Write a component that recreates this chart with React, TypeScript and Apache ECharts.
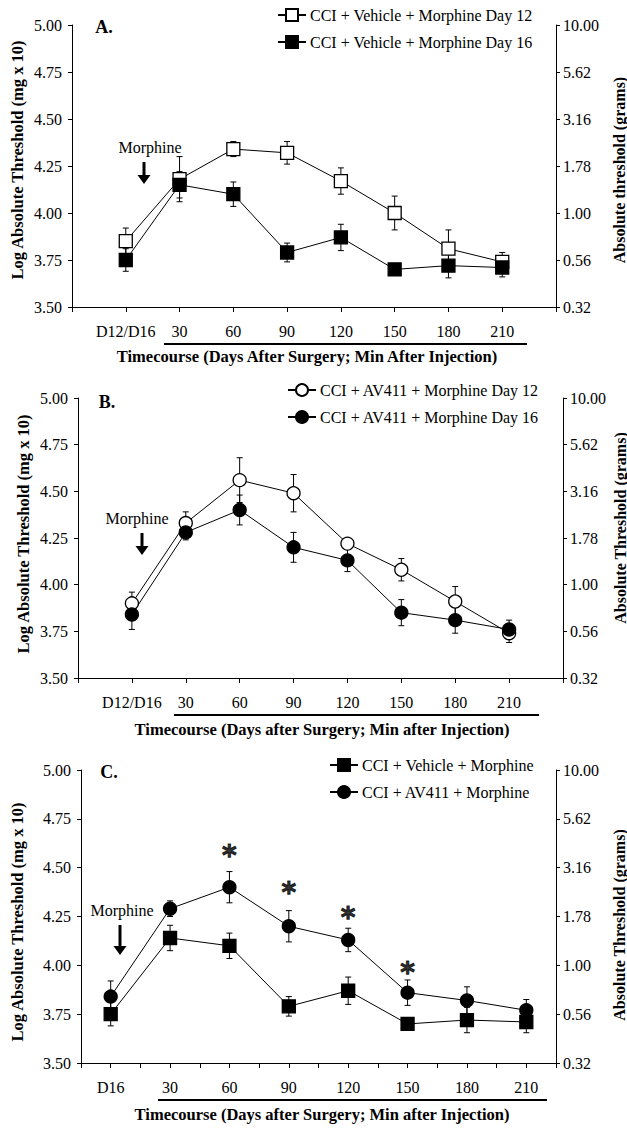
import React, { useEffect, useRef } from "react";
import * as echarts from "echarts";

// ---------- data ----------
const categoriesAB = ["D12/D16", "30", "60", "90", "120", "150", "180", "210"];
const categoriesC = ["D16", "30", "60", "90", "120", "150", "180", "210"];
const xPositions = [1, 2, 3, 4, 5, 6, 7, 8];
const rightTickLabels = ["0.32", "0.56", "1.00", "1.78", "3.16", "5.62", "10.00"];

const aDay12 = [3.85, 4.18, 4.34, 4.32, 4.17, 4.0, 3.81, 3.74];
const aDay12Err = [0.07, 0.12, 0.04, 0.06, 0.07, 0.09, 0.1, 0.05];
const aDay16 = [3.75, 4.15, 4.1, 3.79, 3.87, 3.7, 3.72, 3.71];
const aDay16Err = [0.06, 0.07, 0.065, 0.05, 0.07, 0.03, 0.065, 0.05];

const bDay12 = [3.9, 4.33, 4.56, 4.49, 4.22, 4.08, 3.91, 3.74];
const bDay12Err = [0.06, 0.06, 0.12, 0.1, 0.02, 0.06, 0.08, 0.05];
const bDay16 = [3.84, 4.28, 4.4, 4.2, 4.13, 3.85, 3.81, 3.76];
const bDay16Err = [0.08, 0.04, 0.08, 0.08, 0.06, 0.07, 0.07, 0.05];

const cVehicle = [3.75, 4.14, 4.1, 3.79, 3.87, 3.7, 3.72, 3.71];
const cVehicleErr = [0.06, 0.065, 0.065, 0.05, 0.07, 0.03, 0.065, 0.055];
const cAV411 = [3.84, 4.29, 4.4, 4.2, 4.13, 3.86, 3.82, 3.77];
const cAV411Err = [0.08, 0.04, 0.08, 0.08, 0.06, 0.065, 0.07, 0.055];
const cStars = [null, null, 4.6, 4.41, 4.28, 4.0, null, null];

const namesA = ["CCI + Vehicle + Morphine Day 12", "CCI + Vehicle + Morphine Day 16"];
const namesB = ["CCI + AV411 + Morphine Day 12", "CCI + AV411 + Morphine Day 16"];
const namesC = ["CCI + Vehicle + Morphine", "CCI + AV411 + Morphine"];

const FONT = "'Liberation Serif', 'Times New Roman', serif";

// ---------- helpers ----------
const pts = (vals: number[]) => vals.map((v, i) => [xPositions[i], v]);
const errPts = (vals: number[], errs: number[]) => vals.map((v, i) => [xPositions[i], v, errs[i]]);

const errorRender = (params: any, api: any) => {
  const x = api.value(0);
  const y = api.value(1);
  const e = api.value(2);
  const top = api.coord([x, y + e]);
  const bot = api.coord([x, y - e]);
  const cap = 3;
  const style = { stroke: "#000", lineWidth: 1 };
  return {
    type: "group",
    children: [
      { type: "line", shape: { x1: top[0], y1: top[1], x2: bot[0], y2: bot[1] }, style },
      { type: "line", shape: { x1: top[0] - cap, y1: top[1], x2: top[0] + cap, y2: top[1] }, style },
      { type: "line", shape: { x1: bot[0] - cap, y1: bot[1], x2: bot[0] + cap, y2: bot[1] }, style },
    ],
  };
};

const black = { color: "#000", width: 1 };
const labelStyle = { color: "#000", fontSize: 16, fontFamily: FONT };

function xAxisAB(gridIndex: number) {
  return {
    gridIndex,
    type: "value",
    min: 0,
    max: 9,
    interval: 1,
    axisLine: { show: true, lineStyle: black },
    axisTick: { show: true, length: 5, inside: false, lineStyle: black },
    splitLine: { show: false },
    axisLabel: {
      ...labelStyle,
      margin: 16,
      formatter: (v: number) => categoriesAB[v - 1] ?? "",
    },
  };
}

function xAxisC(gridIndex: number) {
  return {
    gridIndex,
    type: "value",
    min: 0.5,
    max: 8.5,
    interval: 0.5,
    axisLine: { show: true, lineStyle: black },
    axisTick: { show: true, length: 5, inside: false, lineStyle: black },
    splitLine: { show: false },
    axisLabel: {
      ...labelStyle,
      margin: 16,
      formatter: (v: number) => (Number.isInteger(v) ? categoriesC[v - 1] : ""),
    },
  };
}

function yAxes(gridIndex: number) {
  return [
    {
      gridIndex,
      type: "value",
      position: "left",
      min: 3.5,
      max: 5,
      interval: 0.25,
      axisLine: { show: true, lineStyle: black },
      axisTick: { show: true, length: 4, lineStyle: black },
      splitLine: { show: false },
      axisLabel: { ...labelStyle, margin: 10, formatter: (v: number) => v.toFixed(2) },
    },
    {
      gridIndex,
      type: "value",
      position: "right",
      min: 3.5,
      max: 5,
      interval: 0.25,
      axisLine: { show: true, lineStyle: black },
      axisTick: { show: true, length: 4, lineStyle: black },
      splitLine: { show: false },
      axisLabel: {
        ...labelStyle,
        margin: 7,
        formatter: (v: number) => rightTickLabels[Math.round((v - 3.5) / 0.25)] ?? "",
      },
    },
  ];
}

function lineSeries(name: string, vals: number[], axisIdx: number, symbol: string, filled: boolean) {
  return {
    name,
    type: "line",
    xAxisIndex: axisIdx,
    yAxisIndex: axisIdx * 2,
    data: pts(vals),
    symbol,
    symbolSize: 13,
    z: 3,
    lineStyle: { color: "#000", width: 1 },
    itemStyle: { color: filled ? "#000" : "#fff", borderColor: "#000", borderWidth: 1.3 },
    emphasis: { disabled: true },
  };
}

function errSeries(vals: number[], errs: number[], axisIdx: number) {
  return {
    type: "custom",
    xAxisIndex: axisIdx,
    yAxisIndex: axisIdx * 2,
    data: errPts(vals, errs),
    renderItem: errorRender,
    z: 2,
    silent: true,
  };
}

function legendCfg(names: string[], left: number, top: number) {
  return {
    data: names,
    orient: "vertical",
    left,
    top,
    padding: 0,
    itemWidth: 28,
    itemHeight: 15,
    itemGap: 11,
    selectedMode: false,
    textStyle: { color: "#000", fontSize: 16, fontFamily: FONT, padding: [0, 0, 0, -1] },
  };
}

function arrow(x: number, y0: number, tip: number) {
  return [
    { type: "line", shape: { x1: x, y1: y0, x2: x, y2: tip - 7 }, style: { stroke: "#000", lineWidth: 3 } },
    {
      type: "polygon",
      shape: { points: [[x - 6.5, tip - 9], [x + 6.5, tip - 9], [x, tip]] },
      style: { fill: "#000" },
    },
  ];
}

function text(t: string, x: number, y: number, font: string, rotation = 0) {
  return {
    type: "text",
    x,
    y,
    rotation,
    style: { text: t, font, fill: "#000", align: "center", verticalAlign: "middle" },
  };
}

function hline(x1: number, x2: number, y: number) {
  return { type: "line", shape: { x1, y1: y, x2, y2: y }, style: { stroke: "#000", lineWidth: 2 } };
}

export default function App() {
  const ref = useRef<HTMLDivElement>(null);

  useEffect(() => {
    if (!ref.current) return;
    const chart = echarts.init(ref.current, null, { renderer: "svg" });
    const bold16 = `bold 16px ${FONT}`;
    const bold17 = `bold 16.5px ${FONT}`;
    const reg16 = `16px ${FONT}`;
    const letter = `bold 18px ${FONT}`;
    const R = Math.PI / 2;

    const option: any = {
      animation: false,
      backgroundColor: "#fff",
      grid: [
        { left: 72, top: 25, width: 484, height: 282 },
        { left: 78, top: 398, width: 485, height: 280 },
        { left: 81, top: 770, width: 475, height: 293 },
      ],
      xAxis: [xAxisAB(0), xAxisAB(1), xAxisC(2)],
      yAxis: [...yAxes(0), ...yAxes(1), ...yAxes(2)],
      legend: [legendCfg(namesA, 277, 7), legendCfg(namesB, 287, 382), legendCfg(namesC, 329, 757)],
      series: [
        errSeries(aDay12, aDay12Err, 0),
        errSeries(aDay16, aDay16Err, 0),
        lineSeries(namesA[0], aDay12, 0, "rect", false),
        lineSeries(namesA[1], aDay16, 0, "rect", true),
        errSeries(bDay12, bDay12Err, 1),
        errSeries(bDay16, bDay16Err, 1),
        lineSeries(namesB[0], bDay12, 1, "circle", false),
        lineSeries(namesB[1], bDay16, 1, "circle", true),
        errSeries(cVehicle, cVehicleErr, 2),
        errSeries(cAV411, cAV411Err, 2),
        lineSeries(namesC[0], cVehicle, 2, "rect", true),
        lineSeries(namesC[1], cAV411, 2, "circle", true),
        {
          type: "scatter",
          xAxisIndex: 2,
          yAxisIndex: 4,
          z: 5,
          data: cStars
            .map((v, i) => (v == null ? null : [xPositions[i], v]))
            .filter((d) => d != null),
          symbol: "circle",
          symbolSize: 2,
          itemStyle: { color: "rgba(0,0,0,0)" },
          silent: true,
          label: {
            show: true,
            position: "inside",
            formatter: "*",
            color: "#000",
            fontSize: 28,
            fontWeight: "bold",
            fontFamily: "'DejaVu Sans', 'Liberation Sans', Arial, sans-serif",
            textBorderColor: "#000",
            textBorderWidth: 1,
            offset: [0, 7],
          },
        },
      ],
      graphic: [
        // panel letters
        text("A.", 104, 27, letter),
        text("B.", 107, 402, letter),
        text("C.", 109, 772, letter),
        // Morphine annotations
        text("Morphine", 150, 147, reg16),
        ...arrow(144, 162, 184),
        text("Morphine", 137, 518, reg16),
        ...arrow(142, 533, 555),
        text("Morphine", 122, 910, reg16),
        ...arrow(120, 925, 955),
        // x-axis underlines
        hline(164, 527, 344),
        hline(174, 539, 715),
        hline(158, 547, 1100),
        // x-axis titles
        text("Timecourse (Days After Surgery; Min After Injection)", 307, 356, bold17),
        text("Timecourse (Days after Surgery; Min after Injection)", 322, 729, bold17),
        text("Timecourse (Days after Surgery; Min after Injection)", 322, 1114, bold17),
        // left y titles
        text("Log Absolute Threshold (mg x 10)", 17, 160, bold17, R),
        text("Log Absolute Threshold (mg x 10)", 23, 534, bold17, R),
        text("Log Absolute Threshold (mg x 10)", 17, 922, bold17, R),
        // right y titles
        text("Absolute threshold (grams)", 619, 170, bold16, R),
        text("Absolute Threshold (grams)", 620, 528, bold16, R),
        text("Absolute Threshold (grams)", 619, 925, bold16, R),
      ],
    };
    chart.setOption(option);
    return () => chart.dispose();
  }, []);

  return (
    <div
      ref={ref}
      style={{ position: "absolute", left: 0, top: 0, width: 627, height: 1128, background: "#fff" }}
    />
  );
}
